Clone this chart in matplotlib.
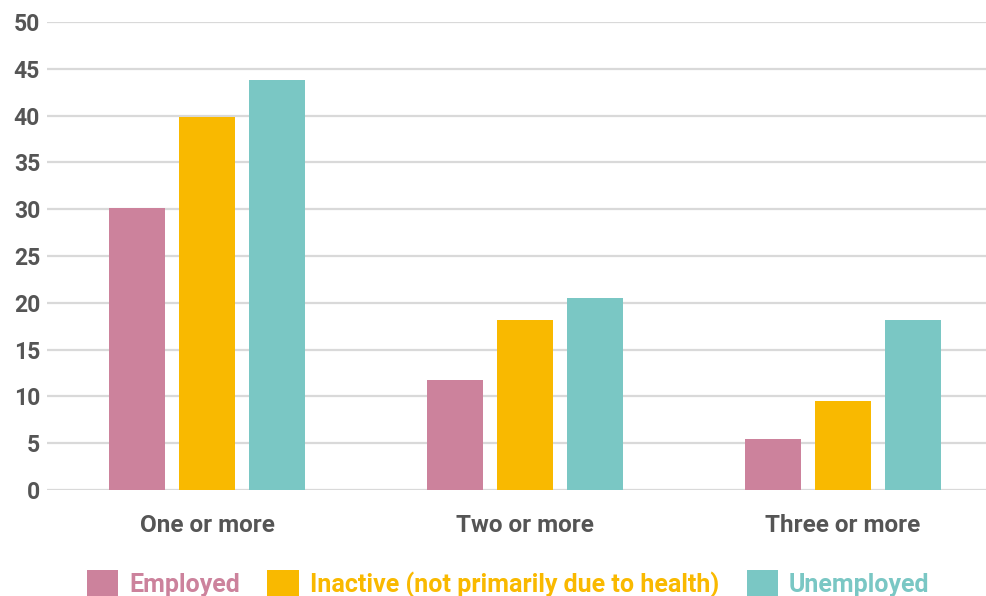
import matplotlib
matplotlib.use("Agg")
import matplotlib.pyplot as plt
import numpy as np
from matplotlib.patches import Patch

categories = ["One or more", "Two or more", "Three or more"]
series_names = ["Employed", "Inactive (not primarily due to health)", "Unemployed"]
employed = [30.1, 11.8, 5.5]
inactive = [39.9, 18.2, 9.5]
unemployed = [43.8, 20.5, 18.2]
y_ticks = [0, 5, 10, 15, 20, 25, 30, 35, 40, 45, 50]

colors = ["#cc829c", "#f9b900", "#7ac7c4"]
text_grey = "#555555"

plt.rcParams["font.family"] = ["Roboto", "DejaVu Sans"]
plt.rcParams["font.weight"] = "bold"

fig = plt.figure(figsize=(9.87, 5.96), dpi=100)
ax = fig.add_axes([47 / 987, 106 / 596, 940 / 987, 468 / 596])

x = np.arange(len(categories))
width = 0.176
offset = 0.22
for i, (vals, c) in enumerate(zip([employed, inactive, unemployed], colors)):
    ax.bar(x + (i - 1) * offset, vals, width=width, color=c, zorder=3)

ax.set_xlim(-0.503, 2.453)
ax.set_ylim(0, 50)
ax.set_yticks(y_ticks)
ax.set_yticklabels([str(t) for t in y_ticks], fontsize=16.5, fontweight="bold", color=text_grey)
ax.set_xticks(x)
ax.set_xticklabels(categories, fontsize=17.5, fontweight="bold", color=text_grey)
ax.tick_params(axis="both", length=0)
ax.tick_params(axis="y", pad=5)
ax.tick_params(axis="x", pad=17)
ax.grid(axis="y", color="#d9d9d9", linewidth=1.6, zorder=0)
ax.set_axisbelow(True)
for s in ax.spines.values():
    s.set_visible(False)

handles = [Patch(facecolor=c, edgecolor="none") for c in colors]
leg = fig.legend(handles, series_names, loc="center", bbox_to_anchor=(508 / 987, 12 / 596),
                 ncol=3, frameon=False, handlelength=1.25, handleheight=1.25,
                 columnspacing=1.1, handletextpad=0.45,
                 prop={"size": 18, "weight": "bold"})
for t, c in zip(leg.get_texts(), colors):
    t.set_color(c)

fig.savefig("out.png", dpi=100)
